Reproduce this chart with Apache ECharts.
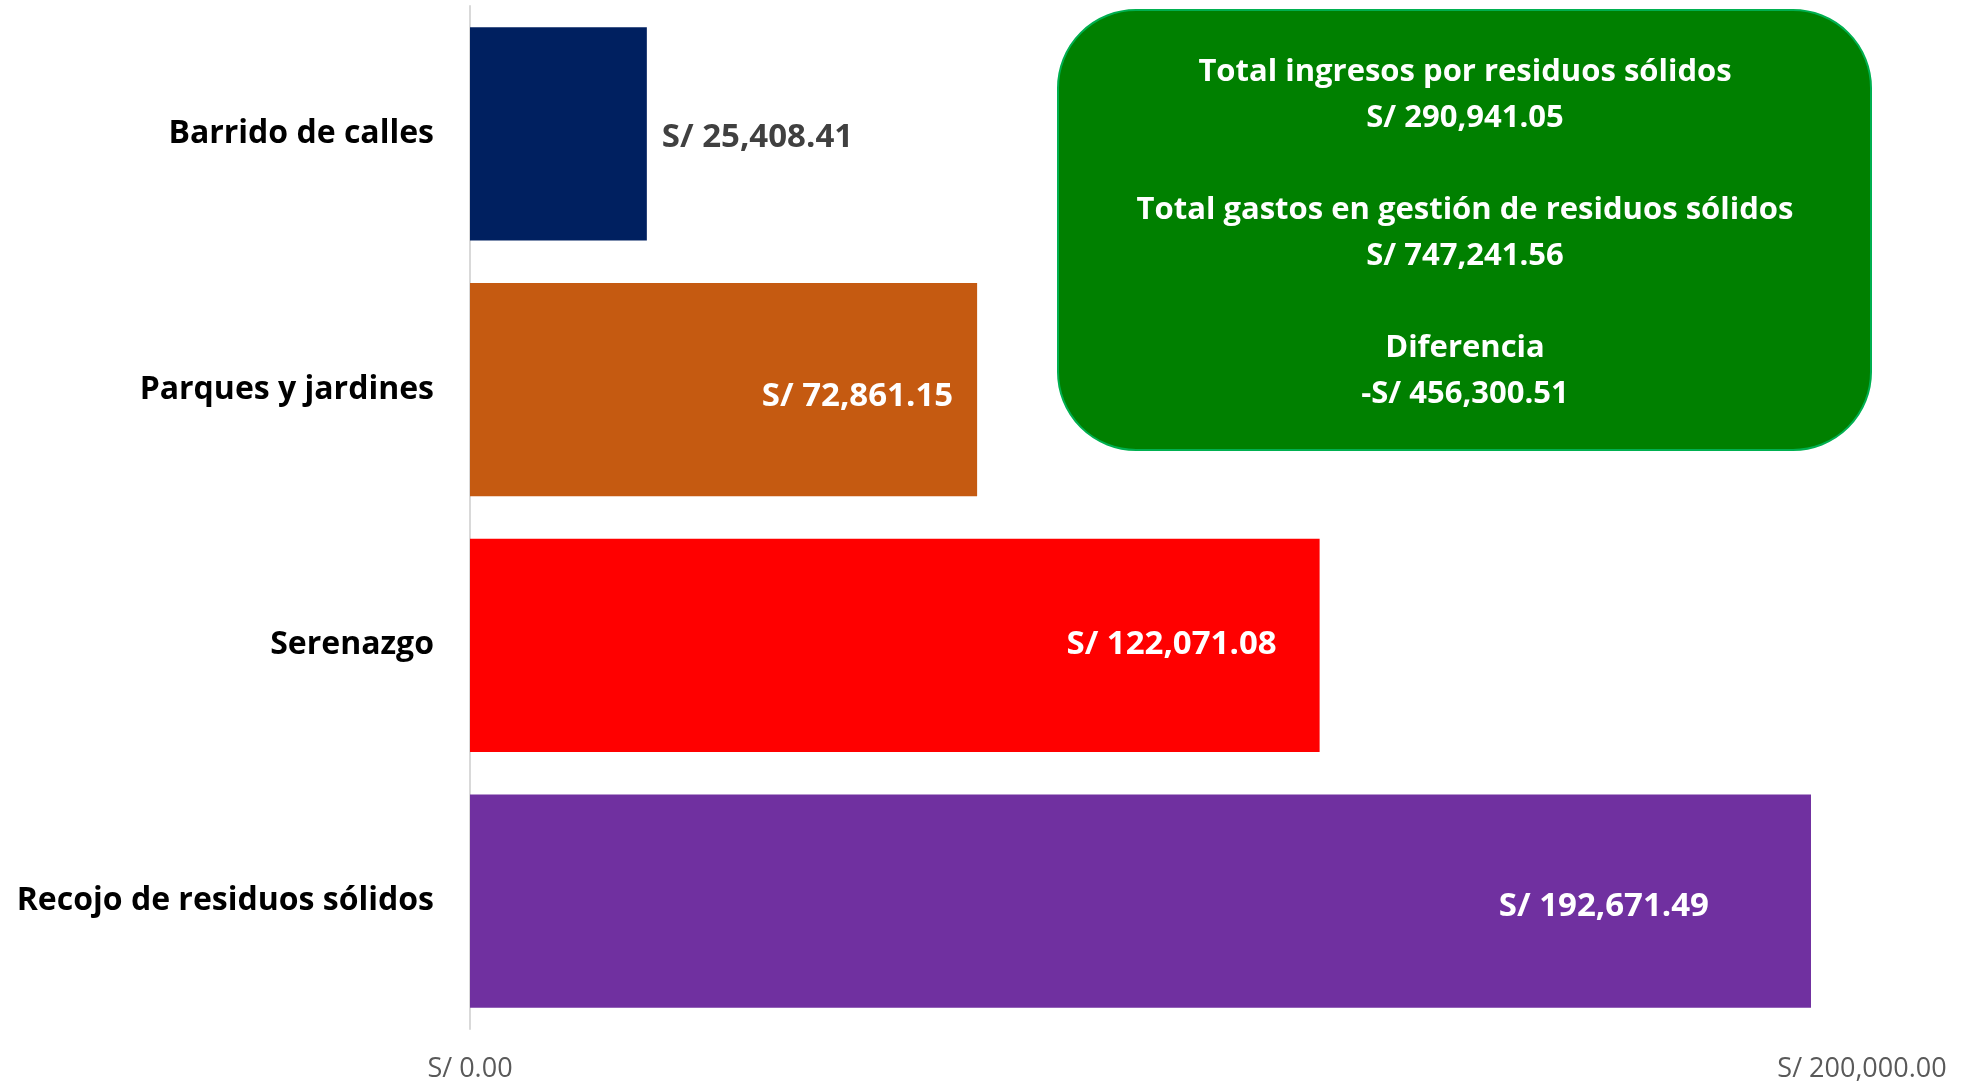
<!DOCTYPE html>
<html>
<head>
<meta charset="utf-8">
<script src="https://cdn.jsdelivr.net/npm/echarts@6/dist/echarts.min.js"></script>
<style>
  html, body { margin: 0; padding: 0; background: #fff; }
  #chart { width: 1967px; height: 1083px; }
</style>
</head>
<body>
<div id="chart"></div>
<script>
// datos
const categories = ['Barrido de calles', 'Parques y jardines', 'Serenazgo', 'Recojo de residuos sólidos'];
const values = [25408.41, 72861.15, 122071.08, 192671.49];
const barColors = ['#002060', '#C55A11', '#FF0000', '#7030A0'];
const xTicks = [0, 200000];

const summaryTitles = ['Total ingresos por residuos sólidos', 'Total gastos en gestión de residuos sólidos', 'Diferencia'];
const summaryValues = [290941.05, 747241.56, -456300.51];

const FONT = '"Open Sans", sans-serif';

function soles(v) {
  const s = 'S/ ' + Math.abs(v).toLocaleString('en-US', { minimumFractionDigits: 2, maximumFractionDigits: 2 });
  return v < 0 ? '-' + s : s;
}

// ajustes de etiqueta por barra (como en el original)
const labelTweaks = [
  { position: 'right', distance: 15, color: '#404040', offset: [0, 4] },
  { position: 'insideRight', distance: 24, color: '#fff', offset: [0, 7] },
  { position: 'insideRight', distance: 43, color: '#fff', offset: [0, -1] },
  { position: 'insideRight', distance: 102, color: '#fff', offset: [0, 5] }
];

const summaryText = summaryTitles.map((t, i) => t + '\n' + soles(summaryValues[i])).join('\n\n');

const option = {
  animation: false,
  grid: { left: 470, right: 105, top: 6, bottom: 53 },
  xAxis: {
    type: 'value',
    min: xTicks[0],
    max: xTicks[xTicks.length - 1],
    interval: xTicks[1] - xTicks[0],
    axisLine: { show: false },
    axisTick: { show: false },
    splitLine: { show: false },
    axisLabel: {
      formatter: v => soles(v),
      color: '#595959',
      fontFamily: FONT,
      fontSize: 27,
      margin: 27
    }
  },
  yAxis: {
    type: 'category',
    inverse: true,
    data: categories,
    axisLine: { show: true, lineStyle: { color: '#D9D9D9', width: 2 } },
    axisTick: { show: false },
    axisLabel: {
      color: '#000',
      fontFamily: FONT,
      fontWeight: 'bold',
      fontSize: 32,
      lineHeight: 44,
      padding: [8, 0, 0, 0],
      margin: 36
    }
  },
  series: [{
    type: 'bar',
    barCategoryGap: '16.6%',
    data: values.map((v, i) => ({
      value: v,
      itemStyle: { color: barColors[i] },
      label: Object.assign({ show: true }, labelTweaks[i])
    })),
    label: {
      show: true,
      formatter: p => soles(p.value),
      fontFamily: FONT,
      fontWeight: 'bold',
      fontSize: 33
    }
  }],
  graphic: [{
    type: 'group',
    left: 1057,
    top: 9,
    children: [{
      type: 'rect',
      shape: { x: 0, y: 0, width: 813, height: 440, r: 78 },
      style: { fill: '#008000', stroke: '#00B050', lineWidth: 2 }
    }, {
      type: 'text',
      x: 407,
      y: 223,
      style: {
        text: summaryText,
        fill: '#fff',
        font: 'bold 31px "Open Sans", sans-serif',
        lineHeight: 46,
        align: 'center',
        verticalAlign: 'middle'
      }
    }]
  }]
};

const myChart = echarts.init(document.getElementById('chart'));
myChart.setOption(option);
window.addEventListener('resize', () => myChart.resize());
</script>
</body>
</html>
